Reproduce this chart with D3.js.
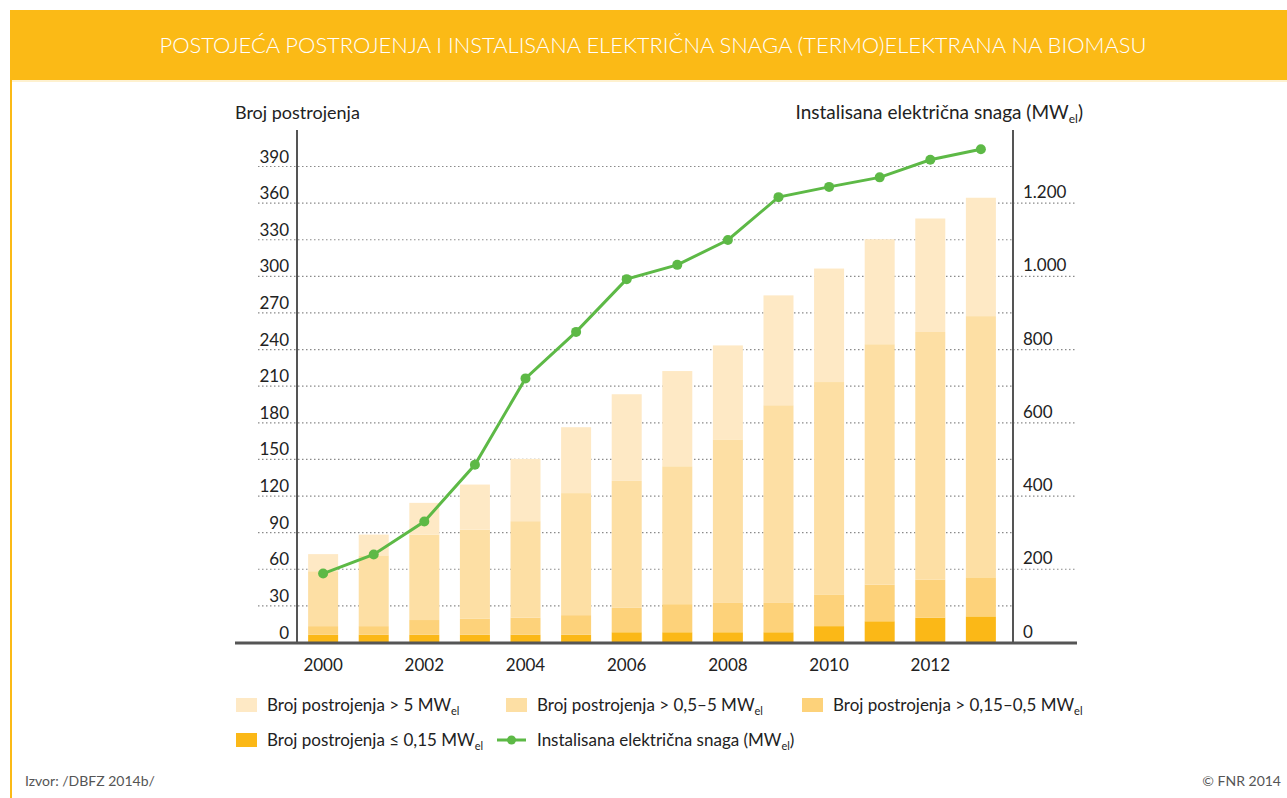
<!DOCTYPE html>
<html>
<head>
<meta charset="utf-8">
<script src="https://cdn.jsdelivr.net/npm/d3@7/dist/d3.min.js"></script>
<style>
  html, body { margin: 0; padding: 0; background: #fff; }
  svg { display: block; }
  text { font-family: Lato, "Open Sans", sans-serif; fill: #222; }
</style>
</head>
<body>
<svg id="chart" width="1287" height="798"></svg>
<script>
// ---- data ----
const years = [2000, 2001, 2002, 2003, 2004, 2005, 2006, 2007, 2008, 2009, 2010, 2011, 2012, 2013];
const upTo015 = [6, 6, 6, 6, 6, 6, 8, 8, 8, 8, 13, 17, 20, 21];
const from015to05 = [7, 7, 12, 13, 14, 16, 20, 23, 24, 24, 26, 30, 31, 32];
const from05to5 = [45, 58, 70, 73, 79, 100, 104, 113, 134, 162, 174, 197, 203, 214];
const over5 = [14, 17, 26, 37, 51, 54, 71, 78, 77, 90, 93, 86, 93, 97];
const capacityMW = [187, 239, 329, 484, 720, 847, 991, 1030, 1098, 1215, 1243, 1269, 1317, 1346];
const leftTicks = [0, 30, 60, 90, 120, 150, 180, 210, 240, 270, 300, 330, 360, 390];
const rightTicks = [0, 200, 400, 600, 800, 1000, 1200];
const xTickYears = [2000, 2002, 2004, 2006, 2008, 2010, 2012];
const seriesKeys = ["s015", "s05", "s5", "sOver5"];
const seriesColors = ["#FBB817", "#FDD27A", "#FDDFA4", "#FEE9C5"];
const lineColor = "#5DB946";

const svg = d3.select("#chart");

// ---- frame ----
svg.append("rect").attr("x", 10).attr("y", 10).attr("width", 1277).attr("height", 70).attr("fill", "#FBBA16");
svg.append("line").attr("x1", 10).attr("x2", 1287).attr("y1", 81).attr("y2", 81).attr("stroke", "#FDE3A0").attr("stroke-width", 1);
svg.append("line").attr("x1", 11).attr("x2", 11).attr("y1", 80).attr("y2", 798).attr("stroke", "#FBBA16").attr("stroke-width", 2);
svg.append("text").attr("x", 653).attr("y", 53).attr("text-anchor", "middle")
  .attr("textLength", 987).attr("lengthAdjust", "spacingAndGlyphs")
  .style("fill", "#fff").style("font-size", "21px").style("font-weight", "300")
  .text("POSTOJEĆA POSTROJENJA I INSTALISANA ELEKTRIČNA SNAGA (TERMO)ELEKTRANA NA BIOMASU");

// ---- scales ----
const y = d3.scaleLinear().domain([0, 420]).range([642, 129.4]);
const yR = d3.scaleLinear().domain([0, 1400]).range([642, 129.4]);
const x = d3.scaleBand().domain(years).range([298, 1006]).paddingInner(0.407).paddingOuter(0.2);

// ---- gridlines ----
const grid = svg.append("g");
grid.selectAll("line.gl").data(leftTicks.filter(d => d > 0)).join("line")
  .attr("x1", 258).attr("x2", 1013).attr("y1", d => y(d) + 0.5).attr("y2", d => y(d) + 0.5)
  .attr("stroke", "#8a8a8a").attr("stroke-width", 1.2).attr("stroke-dasharray", "1.5,2.5");
grid.selectAll("line.gr").data(rightTicks.filter(d => d > 0)).join("line")
  .attr("x1", 1013).attr("x2", 1077).attr("y1", d => yR(d) + 0.5).attr("y2", d => yR(d) + 0.5)
  .attr("stroke", "#8a8a8a").attr("stroke-width", 1.2).attr("stroke-dasharray", "1.5,2.5");

// ---- bars ----
const table = years.map((yr, i) => ({ year: yr, s015: upTo015[i], s05: from015to05[i], s5: from05to5[i], sOver5: over5[i] }));
const stacked = d3.stack().keys(seriesKeys)(table);
svg.append("g").selectAll("g").data(stacked).join("g")
  .attr("fill", (d, i) => seriesColors[i])
  .selectAll("rect").data(d => d).join("rect")
  .attr("x", d => x(d.data.year)).attr("width", x.bandwidth())
  .attr("y", d => y(d[1])).attr("height", d => y(d[0]) - y(d[1]));

// ---- axes ----
svg.append("line").attr("x1", 297).attr("x2", 297).attr("y1", 130).attr("y2", 642).attr("stroke", "#555").attr("stroke-width", 2);
svg.append("line").attr("x1", 1013).attr("x2", 1013).attr("y1", 130).attr("y2", 642).attr("stroke", "#555").attr("stroke-width", 2);
svg.append("line").attr("x1", 235).attr("x2", 1077).attr("y1", 643).attr("y2", 643).attr("stroke", "#555").attr("stroke-width", 3);

const leftAxis = d3.axisLeft(y).tickValues(leftTicks).tickSize(0).tickPadding(0).tickFormat(d3.format("d"));
const gL = svg.append("g").attr("transform", "translate(289,0)").call(leftAxis);
gL.select(".domain").remove();
gL.selectAll("text").attr("dy", "-4px").attr("y", 0).style("font-size", "17px").style("fill", "#222")
  .style("font-family", "Lato, sans-serif").attr("text-anchor", "end");

const fmtR = d => d3.format(",")(d).replace(/,/g, ".");
const rightAxis = d3.axisRight(yR).tickValues(rightTicks).tickSize(0).tickPadding(0).tickFormat(fmtR);
const gR = svg.append("g").attr("transform", "translate(1023,0)").call(rightAxis);
gR.select(".domain").remove();
gR.selectAll("text").attr("dy", "-5px").attr("y", 0).style("font-size", "17px").style("fill", "#222")
  .style("font-family", "Lato, sans-serif").attr("text-anchor", "start");

const bottomAxis = d3.axisBottom(x).tickValues(xTickYears).tickSize(0).tickPadding(0).tickFormat(d3.format("d"));
const gB = svg.append("g").attr("transform", "translate(0,671)").call(bottomAxis);
gB.select(".domain").remove();
gB.selectAll("text").attr("dy", "0").attr("y", 0).style("font-size", "17px").style("fill", "#222")
  .style("font-family", "Lato, sans-serif");

// ---- axis titles ----
svg.append("text").attr("x", 235).attr("y", 119).style("font-size", "18px").text("Broj postrojenja");
const rt = svg.append("text").attr("x", 1083).attr("y", 119).attr("text-anchor", "end").style("font-size", "19px");
rt.append("tspan").text("Instalisana električna snaga (MW");
rt.append("tspan").attr("dy", 4).style("font-size", "12px").text("el");
rt.append("tspan").attr("dy", -4).text(")");

// ---- line ----
const cx = d => x(d) + x.bandwidth() / 2;
const lineData = years.map((yr, i) => ({ year: yr, v: capacityMW[i] }));
svg.append("path").datum(lineData)
  .attr("fill", "none").attr("stroke", lineColor).attr("stroke-width", 3)
  .attr("d", d3.line().x(d => cx(d.year)).y(d => yR(d.v)));
svg.append("g").selectAll("circle").data(lineData).join("circle")
  .attr("cx", d => cx(d.year)).attr("cy", d => yR(d.v)).attr("r", 5).attr("fill", lineColor);

// ---- legend ----
const legendItems = [
  { type: "box", color: seriesColors[3], label: "Broj postrojenja > 5 MW", x: 236, y: 705, tx: 267 },
  { type: "box", color: seriesColors[2], label: "Broj postrojenja > 0,5–5 MW", x: 506, y: 705, tx: 537 },
  { type: "box", color: seriesColors[1], label: "Broj postrojenja > 0,15–0,5 MW", x: 802, y: 705, tx: 833 },
  { type: "box", color: seriesColors[0], label: "Broj postrojenja ≤ 0,15 MW", x: 236, y: 740, tx: 267 },
  { type: "line", color: lineColor, label: "Instalisana električna snaga (MW", x: 497, y: 740, tx: 537 }
];
const lg = svg.append("g");
legendItems.forEach(it => {
  if (it.type === "box") {
    lg.append("rect").attr("x", it.x).attr("y", it.y - 7).attr("width", 21).attr("height", 14).attr("fill", it.color);
  } else {
    lg.append("line").attr("x1", it.x).attr("x2", it.x + 29).attr("y1", it.y).attr("y2", it.y).attr("stroke", it.color).attr("stroke-width", 3);
    lg.append("circle").attr("cx", it.x + 14.5).attr("cy", it.y).attr("r", 4.5).attr("fill", it.color);
  }
  const t = lg.append("text").attr("x", it.tx).attr("y", it.y + 6).style("font-size", "17px");
  t.append("tspan").text(it.label);
  t.append("tspan").attr("dy", 4).style("font-size", "11px").text("el");
  if (it.type === "line") t.append("tspan").attr("dy", -4).text(")");
});

// ---- footer ----
svg.append("text").attr("x", 25).attr("y", 786).style("font-size", "14px").style("fill", "#555").text("Izvor: /DBFZ 2014b/");
svg.append("text").attr("x", 1281).attr("y", 786).attr("text-anchor", "end").style("font-size", "14px").style("fill", "#555").text("© FNR 2014");
</script>
</body>
</html>
